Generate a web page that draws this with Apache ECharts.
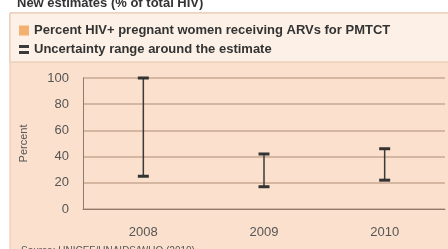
<!DOCTYPE html>
<html>
<head>
<meta charset="utf-8">
<script src="https://cdn.jsdelivr.net/npm/echarts@6/dist/echarts.min.js"></script>
<style>
  html, body { margin: 0; padding: 0; background: #fff; }
  #chart { width: 448px; height: 249px; }
</style>
</head>
<body>
<div id="chart"></div>
<script>
// values
const years = ['2008', '2009', '2010'];
const lowValues = [25, 17, 22];
const highValues = [100, 42, 46];
const yTicks = [0, 20, 40, 60, 80, 100];

const chart = echarts.init(document.getElementById('chart'));

const barPath = 'path://M0,0H10V3H0Z M0,6H10V9H0Z';

chart.setOption({
  backgroundColor: '#ffffff',
  animation: false,
  title: [
    {
      text: 'New estimates (% of total HIV)',
      left: 12, top: -8,
      textStyle: { fontFamily: 'Liberation Sans', fontSize: 13, fontWeight: 'bold', color: '#333' }
    },
    {
      text: 'Source: UNICEF/UNAIDS/WHO (2010)',
      left: 16, top: 241,
      textStyle: { fontFamily: 'Liberation Sans', fontSize: 10, fontWeight: 'normal', color: '#555' }
    }
  ],
  graphic: [
    { type: 'rect', z: -10, shape: { x: 10, y: 13, width: 440, height: 240 }, style: { fill: '#fbe1cd', stroke: '#e6c3aa', lineWidth: 1 } },
    { type: 'rect', z: -9, shape: { x: 10, y: 13, width: 440, height: 49 }, style: { fill: '#fdf1e7', stroke: '#e6c3aa', lineWidth: 1 } }
  ],
  legend: {
    orient: 'vertical',
    left: 14, top: 19,
    itemWidth: 10, itemHeight: 10, itemGap: 6,
    textStyle: { fontFamily: 'Liberation Sans', fontSize: 13, fontWeight: 'bold', color: '#333' },
    data: [
      { name: 'Percent HIV+ pregnant women receiving ARVs for PMTCT', icon: 'rect', itemStyle: { color: '#f0a050' } },
      { name: 'Uncertainty range around the estimate', icon: barPath, itemStyle: { color: '#3a3a3a' } }
    ]
  },
  grid: { left: 83, right: 3, top: 78, bottom: 40 },
  xAxis: {
    type: 'category',
    data: years,
    axisLine: { lineStyle: { color: '#8f7b6d', width: 1 } },
    axisTick: { show: false },
    axisLabel: { margin: 17, fontFamily: 'Liberation Sans', fontSize: 13, color: '#555' }
  },
  yAxis: {
    type: 'value',
    min: yTicks[0], max: yTicks[yTicks.length - 1], interval: 20,
    name: 'Percent', nameLocation: 'middle', nameGap: 54, nameRotate: 90,
    nameTextStyle: { fontFamily: 'Liberation Sans', fontSize: 11, color: '#555' },
    axisLine: { show: true, lineStyle: { color: '#8f7b6d', width: 1 } },
    axisTick: { show: false },
    axisLabel: { margin: 14, fontFamily: 'Liberation Sans', fontSize: 13, color: '#555' },
    splitLine: { lineStyle: { color: '#c9a792', width: 1.5 } }
  },
  series: [
    { name: 'Percent HIV+ pregnant women receiving ARVs for PMTCT', type: 'scatter', data: [], itemStyle: { color: '#f0a050' } },
    {
      name: 'Uncertainty range around the estimate',
      type: 'custom',
      itemStyle: { color: '#3a3a3a' },
      data: years.map((y, i) => [i, lowValues[i], highValues[i]]),
      encode: { x: 0, y: [1, 2] },
      renderItem: function (params, api) {
        const lo = api.coord([api.value(0), api.value(1)]);
        const hi = api.coord([api.value(0), api.value(2)]);
        const w = 5.5;
        const st = { stroke: '#3a3a3a', lineWidth: 1.5 };
        return {
          type: 'group',
          children: [
            { type: 'line', shape: { x1: lo[0], y1: lo[1], x2: hi[0], y2: hi[1] }, style: st },
            { type: 'line', shape: { x1: hi[0] - w, y1: hi[1], x2: hi[0] + w, y2: hi[1] }, style: { stroke: '#333', lineWidth: 3 } },
            { type: 'line', shape: { x1: lo[0] - w, y1: lo[1], x2: lo[0] + w, y2: lo[1] }, style: { stroke: '#333', lineWidth: 3 } }
          ]
        };
      }
    }
  ]
});
</script>
</body>
</html>
